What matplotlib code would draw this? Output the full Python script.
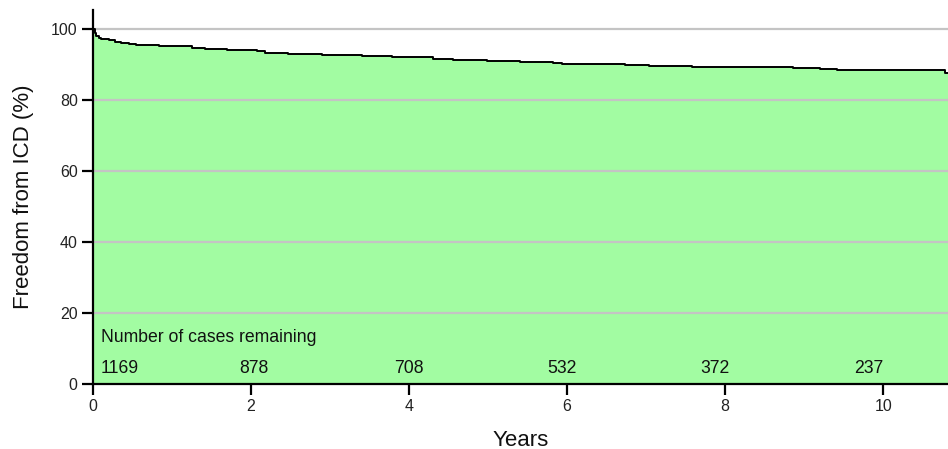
import numpy as np
import matplotlib.pyplot as plt

plt.rcParams['font.family'] = ['Liberation Sans', 'DejaVu Sans']

# Kaplan-Meier style step curve
years = [0.0, 0.02, 0.04, 0.07, 0.10, 0.20, 0.28, 0.35, 0.45, 0.55, 0.83, 0.98,
         1.25, 1.42, 1.70, 1.80, 2.07, 2.18, 2.47, 2.90, 3.40, 3.78, 4.30, 4.56,
         4.99, 5.41, 5.82, 5.94, 6.73, 7.03, 7.58, 8.86, 9.20, 9.42, 10.78, 10.82]
freedom = [100.0, 99.0, 98.2, 97.6, 97.2, 97.0, 96.6, 96.1, 95.9, 95.7, 95.4, 95.2,
           94.9, 94.6, 94.3, 94.1, 93.8, 93.4, 93.1, 92.7, 92.5, 92.25, 91.8, 91.5,
           91.2, 90.9, 90.6, 90.4, 90.1, 89.7, 89.5, 89.1, 88.8, 88.5, 87.7, 87.7]

at_risk_years = [0.10, 2.03, 4.0, 5.93, 7.87, 9.82]
at_risk = ['1169', '878', '708', '532', '372', '237']

fig = plt.figure(figsize=(9.48, 4.49), dpi=100)
ax = fig.add_axes([0.0981, 0.1448, 0.9019, 0.833])

ax.fill_between(years, freedom, 0, step='post', color='#a2fca2', linewidth=0, zorder=1)
ax.step(years, freedom, where='post', color='black', linewidth=1.4, zorder=3)

for yv in [20, 40, 60, 80, 100]:
    ax.axhline(yv, color='#c4c4c4', linewidth=1.6, zorder=2)

ax.text(0.10, 13, 'Number of cases remaining', fontsize=12.7, color='#111111',
        ha='left', va='center')
for i, (xp, lab) in enumerate(zip(at_risk_years, at_risk)):
    ax.text(xp, 4.5, lab, fontsize=12.7, color='#111111',
            ha='left' if i == 0 else 'center', va='center')

ax.set_xlim(0, 10.82)
ax.set_ylim(0, 105.5)
ax.set_xticks([0, 2, 4, 6, 8, 10])
ax.set_yticks([0, 20, 40, 60, 80, 100])
ax.tick_params(axis='both', direction='out', length=8, width=1.6, labelsize=11.5,
               labelcolor='#222222', pad=3)

for side in ['top', 'right']:
    ax.spines[side].set_visible(False)
for side in ['left', 'bottom']:
    ax.spines[side].set_linewidth(1.6)

ax.set_xlabel('Years', fontsize=16, labelpad=11, color='#111111')
ax.set_ylabel('Freedom from ICD (%)', fontsize=16, labelpad=12, color='#111111')

fig.savefig('out.png', dpi=100)
